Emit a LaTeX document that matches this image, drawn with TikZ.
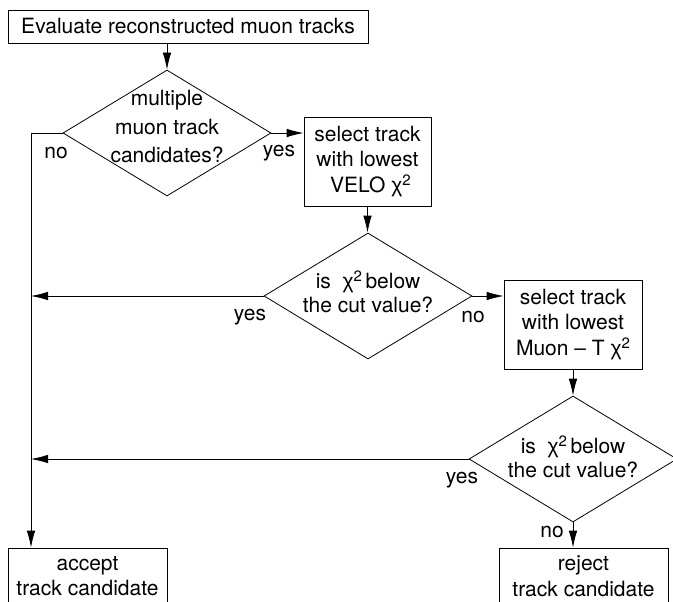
\documentclass[tikz,border=0pt]{standalone}
\usepackage{fontspec}
\setmainfont{TeX Gyre Heros}
\newfontfamily\greekfont{Liberation Sans}
\usetikzlibrary{shapes.geometric, arrows.meta, positioning}
\newcommand{\chisq}{{\greekfont χ}\raisebox{0.62ex}{\fontsize{15}{15}\selectfont 2}}

\begin{document}
\begin{tikzpicture}[x=1pt, y=-1pt,
    box/.style={rectangle, draw, line width=0.8pt, align=center, inner sep=0pt,
                font=\fontsize{21}{25.5}\selectfont},
    decision/.style={diamond, draw, line width=0.8pt, minimum width=208pt,
                     minimum height=126pt, inner sep=0pt},
    dtext/.style={align=center, font=\fontsize{21}{24.5}\selectfont},
    arrow/.style={-{Latex[length=17pt, width=8.5pt]}, line width=0.8pt},
    answer/.style={font=\fontsize{21}{25}\selectfont}
]
\path[use as bounding box, clip] (0,0) rectangle (673,602);

% boxes and decisions
\node[box, minimum width=360pt, minimum height=33pt] (start) at (188,26.5) {Evaluate reconstructed muon tracks};

\node[decision] (multi) at (167,133) {};
\node[dtext, font=\fontsize{21}{28.5}\selectfont] (multitext) at ([yshift=6pt]multi.center) {multiple\\muon track\\candidates?};

\node[box, minimum width=127pt, minimum height=89pt] (velo) at (367.5,161.5) {select track\\with lowest\\\ VELO \chisq};

\node[decision] (cutvelo) at (368,296) {};
\node[dtext] (cutvelotext) at ([yshift=4pt]cutvelo.center) {is\ \ \chisq\,below\\the cut value?};

\node[box, minimum width=138pt, minimum height=89pt] (muont) at (573,324.5) {select track\\with lowest\\Muon -- T \chisq};

\node[decision] (cutmuont) at (573,459) {};
\node[dtext] (cutmuonttext) at ([yshift=2pt]cutmuont.center) {is\ \ \chisq\,below\\the cut value?};

\node[box, minimum width=159pt, minimum height=56pt] (accept) at (87.5,576) {accept\\track candidate};
\node[box, minimum width=169pt, minimum height=56pt] (reject) at (583.5,576) {reject\\track candidate};

% answers
\node[answer] (no1) at (56,153) {no};
\node[answer] (yes1) at (279,153) {yes};
\node[answer] (yes2) at (250,317) {yes};
\node[answer] (no2) at (473,317) {no};
\node[answer] (yes3) at (462,480) {yes};
\node[answer] (no3) at (552,532) {no};

% connectors
\coordinate (trunk) at (31,133);
\draw[arrow] (start.south -| multi) -- (multi.north);
\draw[arrow] (multi.east) -- (multi.east -| velo.west);
\draw[arrow] (velo.south) -- (velo.south |- cutvelo.north);
\draw[arrow] (cutvelo.east) -- (cutvelo.east -| muont.west);
\draw[arrow] (muont.south) -- (muont.south |- cutmuont.north);
\draw[arrow] (cutmuont.south) -- (cutmuont.south |- reject.north);
\draw[arrow] (multi.west) -- (trunk) -- (trunk |- accept.north);
\draw[arrow] (cutvelo.west) -- (cutvelo.west -| trunk);
\draw[arrow] (cutmuont.west) -- (cutmuont.west -| trunk);

\end{tikzpicture}
\end{document}
